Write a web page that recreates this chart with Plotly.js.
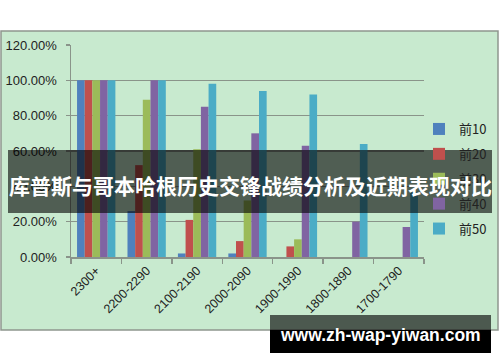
<!DOCTYPE html>
<html>
<head>
<meta charset="utf-8">
<script src="https://cdn.plot.ly/plotly-3.0.1.min.js"></script>
<style>html,body{margin:0;padding:0;background:#fff;}#chart{width:500px;height:362px;}</style>
</head>
<body>
<div id="chart"></div>
<script>
// Data
const categories = ["2300+", "2200-2290", "2100-2190", "2000-2090", "1900-1990", "1800-1890", "1700-1790"];
const seriesNames = ["前10", "前20", "前30", "前40", "前50"];
const top10 = [1.00, 0.26, 0.02, 0.02, 0.00, 0.00, 0.00];
const top20 = [1.00, 0.52, 0.21, 0.09, 0.06, 0.00, 0.00];
const top30 = [1.00, 0.89, 0.61, 0.32, 0.10, 0.00, 0.00];
const top40 = [1.00, 1.00, 0.85, 0.70, 0.63, 0.20, 0.17];
const top50 = [1.00, 1.00, 0.98, 0.94, 0.92, 0.64, 0.37];
const yTicks = [0, 0.2, 0.4, 0.6, 0.8, 1.0, 1.2];
const titleText = "库普斯与哥本哈根历史交锋战绩分析及近期表现对比";
const urlText = "www.zh-wap-yiwan.com";

const colors = ["#4F81BD", "#C0504D", "#9BBB59", "#8064A2", "#4BACC6"];
const values = [top10, top20, top30, top40, top50];

const W = 500, H = 362;
const px = x => x / W;
const py = y => 1 - y / H;

const traces = values.map((v, i) => ({
  type: "bar",
  name: seriesNames[i],
  x: categories,
  y: v,
  marker: {color: colors[i], line: {width: 0}},
  legendgroup: "g" + i,
  hoverinfo: "skip"
}));

const layout = {
  width: W, height: H,
  margin: {l: 0, r: 0, t: 0, b: 0},
  paper_bgcolor: "#ffffff",
  plot_bgcolor: "rgba(0,0,0,0)",
  barmode: "group",
  bargap: 0.24,
  bargroupgap: 0,
  font: {family: "Liberation Sans, Arial, sans-serif", color: "#222"},
  xaxis: {
    domain: [px(71), px(424)],
    type: "category",
    tickson: "boundaries",
    ticks: "outside", ticklen: 5, tickcolor: "#8a948a", tickwidth: 1.5,
    showline: true, linecolor: "#8a948a", linewidth: 1.5,
    showgrid: false,
    tickangle: -45,
    tickfont: {size: 12.5, color: "#222"}
  },
  yaxis: {
    domain: [py(257), py(45)],
    range: [0, 1.2],
    tickvals: yTicks,
    tickformat: ".2%",
    ticks: "outside", ticklen: 4, tickcolor: "#8a948a", tickwidth: 1.5,
    showline: true, linecolor: "#8a948a", linewidth: 1.5,
    showgrid: true, gridcolor: "#8a948a", gridwidth: 1.5,
    zeroline: false,
    ticklabelstandoff: 6,
    tickfont: {size: 13, color: "#222"}
  },
  showlegend: true,
  legend: {
    x: px(419), xanchor: "left",
    y: py(114), yanchor: "top",
    bgcolor: "rgba(0,0,0,0)",
    tracegroupgap: 5,
    font: {size: 13, color: "#222", family: "Noto Sans CJK SC, Liberation Sans, sans-serif"}
  },
  shapes: [
    {type: "rect", xref: "paper", yref: "paper", layer: "below",
     x0: px(1), x1: px(498), y0: py(330), y1: py(31),
     fillcolor: "#c8eacf", line: {color: "#8f968f", width: 1.5}},
    {type: "rect", xref: "paper", yref: "paper", layer: "above",
     x0: px(8), x1: px(492), y0: py(213), y1: py(150),
     fillcolor: "rgba(0,0,0,0.6)", line: {width: 0}},
    {type: "rect", xref: "paper", yref: "paper", layer: "above",
     x0: px(270), x1: px(491), y0: py(330), y1: py(315),
     fillcolor: "rgba(0,0,0,0.62)", line: {width: 0}},
    {type: "rect", xref: "paper", yref: "paper", layer: "above",
     x0: px(270), x1: px(491), y0: py(353), y1: py(330),
     fillcolor: "#000000", line: {width: 0}}
  ],
  annotations: [
    {xref: "paper", yref: "paper", x: px(250), y: py(185), xanchor: "center", yanchor: "middle",
     text: "<b>" + titleText + "</b>", showarrow: false,
     font: {size: 21, color: "#ffffff", family: "Noto Sans CJK SC, sans-serif"}},
    {xref: "paper", yref: "paper", x: px(380), y: py(335), xanchor: "center", yanchor: "middle",
     text: "<b>" + urlText + "</b>", showarrow: false,
     font: {size: 17.5, color: "#ffffff", family: "Liberation Sans, Arial, sans-serif"}}
  ]
};

Plotly.newPlot("chart", traces, layout, {displayModeBar: false, staticPlot: true});
</script>
</body>
</html>
